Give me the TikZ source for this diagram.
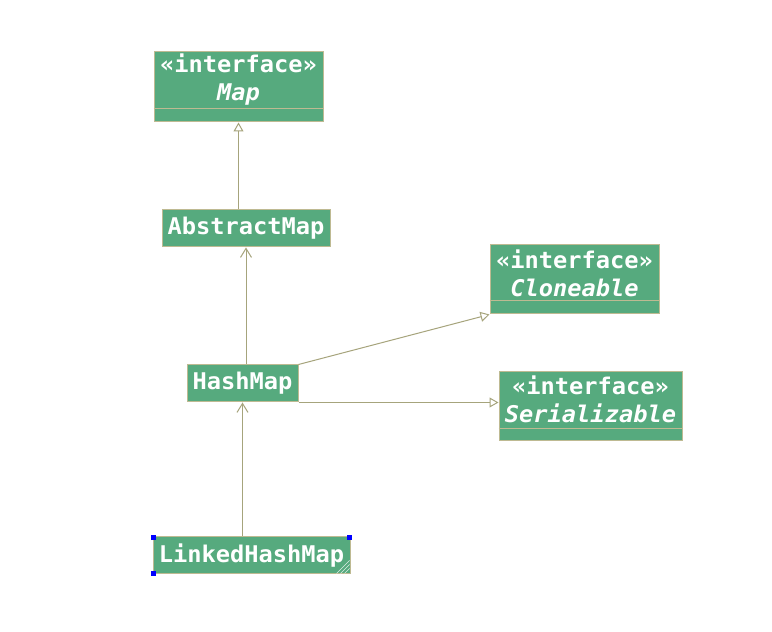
\documentclass[tikz,border=0pt]{standalone}
\usepackage{fontspec}
\usetikzlibrary{arrows.meta}
\newfontfamily\umlmono[FakeStretch=1.03]{DejaVu Sans Mono}
\definecolor{boxfill}{RGB}{86,170,126}
\definecolor{boxline}{RGB}{190,186,146}
\definecolor{conn}{RGB}{166,164,124}
\definecolor{handle}{RGB}{0,0,255}
\tikzset{
  cls/.style={draw=boxline, fill=boxfill, line width=1pt, inner sep=0pt, minimum height=37pt},
  lbl/.style={text=white, font=\umlmono\bfseries\fontsize{23}{28}\selectfont, inner sep=0pt, align=center},
  sep/.style={draw=boxline, line width=1pt},
  realize/.style={draw=conn, line width=1pt, -{Triangle[open, length=9pt, width=10pt]}},
  assoc/.style={draw=conn, line width=1pt, -{Straight Barb[length=9pt, width=11pt]}},
  grip/.style={draw=white!80!boxfill, line width=0.7pt},
  hbox/.style={fill=handle, draw=none, minimum size=5pt, inner sep=0pt}
}
\begin{document}
\begin{tikzpicture}[x=1pt,y=1pt]
\useasboundingbox (0,0) rectangle (772,632);
\fill[white] (0,0) rectangle (772,632);

% Map
\node[cls, minimum width=169pt, minimum height=70pt] (map) at (238.5,545) {};
\draw[sep] ([yshift=14pt]map.south west) -- ([yshift=14pt]map.south east);
\node[lbl] (mapt) at (238.5,552) {«interface»\\\itshape Map};

% AbstractMap
\node[cls, minimum width=168pt] (abstract) at (246,403.5) {};
\node[lbl] (abstractt) at (abstract.center) {AbstractMap};

% Cloneable
\node[cls, minimum width=169pt, minimum height=69pt] (clone) at (574.5,352.5) {};
\draw[sep] ([yshift=14pt]clone.south west) -- ([yshift=14pt]clone.south east);
\node[lbl] (clonet) at (574.5,359) {«interface»\\\itshape Cloneable};

% HashMap
\node[cls, minimum width=111pt] (hash) at (242.5,248.5) {};
\node[lbl] (hasht) at (hash.center) {HashMap};

% Serializable
\node[cls, minimum width=183pt, minimum height=69pt] (serial) at (590.5,225.5) {};
\draw[sep] ([yshift=13pt]serial.south west) -- ([yshift=13pt]serial.south east);
\node[lbl] (serialt) at (590.5,232.5) {«interface»\\\itshape Serializable};

% LinkedHashMap
\node[cls, minimum width=197pt] (linked) at (251.5,76.5) {};
\node[lbl] (linkedt) at (linked.center) {LinkedHashMap};
\draw[grip] ([xshift=-10pt,yshift=1pt]linked.south east) -- ([xshift=-1pt,yshift=10pt]linked.south east);
\draw[grip] ([xshift=-6pt,yshift=1pt]linked.south east) -- ([xshift=-1pt,yshift=6pt]linked.south east);
\draw[grip] ([xshift=-14pt,yshift=1pt]linked.south east) -- ([xshift=-1pt,yshift=14pt]linked.south east);
\node[hbox] (h1) at ([xshift=1pt,yshift=-1pt]linked.north west) {};
\node[hbox] (h2) at ([xshift=-1pt,yshift=-1pt]linked.north east) {};
\node[hbox] (h3) at ([xshift=1pt,yshift=1pt]linked.south west) {};

% connectors
\draw[realize] (abstract.north -| map.south) -- (map.south);
\draw[assoc] (hash.north -| abstract.south) -- (abstract.south);
\draw[assoc] (linked.north -| hash.south) -- (hash.south);
\draw[realize] (hash.north east) -- (clone.south west);
\draw[realize] (hash.south east) -- (hash.south east -| serial.west);
\end{tikzpicture}
\end{document}
